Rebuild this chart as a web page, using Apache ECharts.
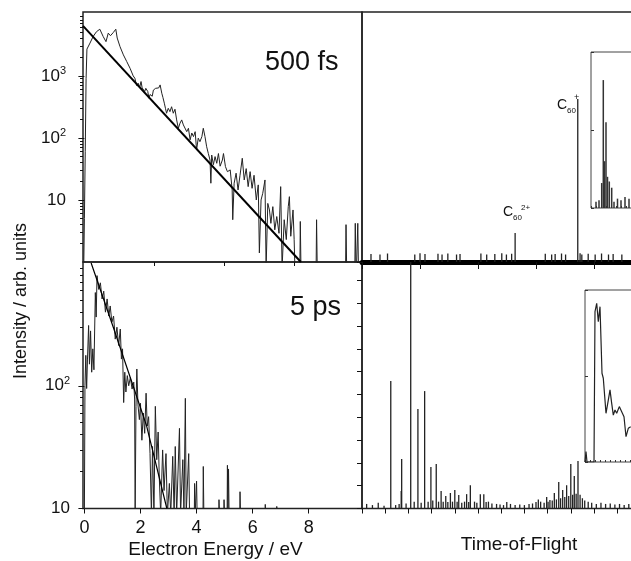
<!DOCTYPE html>
<html><head><meta charset="utf-8">
<script src="https://cdn.jsdelivr.net/npm/echarts@6/dist/echarts.min.js"></script>
<style>html,body{margin:0;padding:0;background:#fff}#c{width:631px;height:561px}</style>
</head><body><div id="c"></div>
<script>
// ---- data ----
// 500 fs photoelectron spectrum [energy eV, intensity]
const spec500 = [[-0.03,0.5],[0.0,5],[0.03,60],[0.06,900],[0.09,2700],[0.2,3380],[0.31,4300],[0.43,5150],[0.55,5650],[0.67,4300],[0.77,3560],[0.85,4880],[0.93,4440],[1.03,5000],[1.12,5650],[1.17,4070],[1.27,2960],[1.39,2180],[1.51,1700],[1.63,1320],[1.74,1000],[1.8,915],[1.86,700],[1.92,760],[1.97,650],[2.02,810],[2.06,640],[2.1,670],[2.15,560],[2.19,630],[2.26,560],[2.3,437],[2.34,500],[2.38,525],[2.42,470],[2.46,590],[2.5,560],[2.54,630],[2.58,600],[2.61,670],[2.65,640],[2.7,715],[2.76,525],[2.8,450],[2.85,363],[2.89,300],[2.93,250],[2.99,300],[3.05,265],[3.11,318],[3.17,250],[3.23,290],[3.29,195],[3.35,143],[3.41,173],[3.47,195],[3.53,162],[3.59,173],[3.65,126],[3.71,143],[3.77,93],[3.83,120],[3.89,105],[3.95,126],[4.0,64],[4.06,99],[4.12,87],[4.19,105],[4.24,143],[4.3,105],[4.36,72],[4.42,56],[4.48,44],[4.51,18.6],[4.54,53],[4.6,37],[4.66,50],[4.72,39],[4.78,56],[4.84,35],[4.92,44],[4.96,56],[5.03,34.5],[5.1,28.6],[5.2,30.5],[5.27,14.5],[5.29,4.8],[5.34,18.6],[5.41,27],[5.48,14.5],[5.55,25],[5.63,47],[5.7,21],[5.77,32],[5.84,16.4],[5.91,28.6],[5.98,15.4],[6.05,25],[6.13,10],[6.2,17.5],[6.24,1.4],[6.3,10],[6.36,12.8],[6.44,21],[6.48,0.8],[6.54,8.8],[6.6,6.9],[6.65,4.2],[6.72,7.8],[6.79,3.3],[6.86,5.4],[6.94,2.9],[7.0,16.4],[7.05,0.8],[7.125,4.8],[7.2,2.3],[7.27,7.8],[7.31,11.3],[7.36,2.6],[7.44,6.9],[7.48,2.3],[7.52,0.5],[7.68,0.5],[7.7,4.5],[7.73,0.5],[8.26,0.5],[8.28,4.8],[8.31,0.5],[9.31,0.5],[9.33,4.0],[9.36,0.5],[9.64,0.5],[9.66,4.2],[9.69,0.5],[9.73,0.5],[9.75,4.2],[9.78,0.5]];
const fit500 = [[-0.05,6400],[7.72,1]];
// 5 ps photoelectron spectrum
const spec5ps = [[0.0,9],[0.02,100],[0.05,177],[0.08,95],[0.11,165],[0.15,310],[0.18,150],[0.22,280],[0.26,129],[0.3,200],[0.34,135],[0.39,575],[0.42,363],[0.45,790],[0.51,610],[0.57,690],[0.63,510],[0.69,590],[0.75,398],[0.81,510],[0.87,370],[0.92,447],[0.98,330],[1.04,370],[1.1,240],[1.16,300],[1.22,213],[1.28,290],[1.32,165],[1.36,200],[1.4,73],[1.44,129],[1.48,89],[1.53,121],[1.58,100],[1.64,117],[1.7,94],[1.76,107],[1.79,78],[1.81,9],[1.84,68],[1.87,137],[1.91,70],[1.96,53],[2.0,72],[2.05,36],[2.1,60],[2.15,41],[2.2,87],[2.24,47],[2.29,56],[2.34,28],[2.39,9],[2.43,32],[2.48,9],[2.53,68],[2.58,25],[2.63,42],[2.67,18],[2.72,9],[2.79,30],[2.84,14],[2.91,28],[2.96,9],[3.03,16],[3.08,9],[3.15,26.6],[3.2,9],[3.24,32],[3.29,9],[3.39,45],[3.43,9],[3.51,25],[3.55,9],[3.6,79],[3.63,9],[3.72,28],[3.75,9],[3.92,9],[3.93,16],[3.95,9],[3.99,9],[4.0,16.7],[4.02,9],[4.23,9],[4.24,22],[4.26,9],[4.79,9],[4.8,11.8],[4.82,9],[4.97,9],[4.98,11.8],[5.0,9],[5.09,9],[5.1,22.5],[5.12,9],[5.13,9],[5.14,21],[5.16,9],[5.54,9],[5.55,13.7],[5.57,9],[6.44,9],[6.45,10.8],[6.47,9],[6.85,9],[6.86,10.4],[6.88,9]];
const fit5ps = [[0.24,1000],[1.03,300],[2.22,47],[2.94,10]];
// time-of-flight, 500 fs [tof, height]
const tofTop = [[0.155,3.2],[0.31,3.0],[0.44,3.4],[0.91,3.0],[1.0,3.5],[1.086,3.2],[1.31,3.3],[1.38,3.0],[1.48,3.4],[1.63,3.0],[1.69,3.2],[2.05,3.4],[2.15,3.0],[2.29,3.2],[2.41,3.5],[2.49,3.0],[2.58,3.3],[2.64,11.6],[3.16,3.3],[3.27,3.0],[3.33,3.2],[3.44,3.4],[3.51,3.0],[3.72,65.2],[3.76,3.5],[3.79,3.0],[3.9,3.3],[4.02,3.0],[4.13,3.4],[4.25,3.0],[4.33,3.2],[4.48,3.0]];
const tofTopInset = [[1.0,0.04],[1.6,0.05],[2.14,0.16],[2.46,0.82],[2.7,0.3],[3.0,0.55],[3.3,0.2],[3.66,0.17],[4.14,0.13],[4.6,0.04],[5.3,0.06],[6.0,0.05],[6.8,0.07],[7.6,0.06]];
// time-of-flight, 5 ps
const tofBottom = [[0.2,0.2],[0.45,0.15],[0.7,0.25],[0.95,0.12],[1.24,5.59],[1.45,0.15],[1.6,0.2],[1.69,0.77],[1.71,2.17],[1.9,0.22],[2.1,12],[2.25,0.3],[2.41,4.36],[2.55,0.25],[2.7,5.15],[2.85,0.3],[2.97,1.82],[3.05,0.35],[3.2,1.95],[3.3,0.3],[3.41,0.77],[3.5,0.3],[3.61,0.55],[3.7,0.28],[3.81,0.68],[3.9,0.3],[4.0,0.81],[4.1,0.3],[4.17,0.59],[4.3,0.25],[4.42,0.3],[4.51,0.63],[4.6,0.28],[4.67,1.02],[4.85,0.3],[4.95,0.25],[5.1,0.63],[5.25,0.63],[5.35,0.28],[5.45,0.3],[5.6,0.22],[5.8,0.2],[5.95,0.18],[6.1,0.15],[6.24,0.28],[6.4,0.2],[6.6,0.15],[6.8,0.18],[7.0,0.15],[7.2,0.2],[7.35,0.22],[7.5,0.28],[7.6,0.4],[7.7,0.3],[7.85,0.25],[7.96,0.5],[8.02,0.3],[8.1,0.37],[8.2,0.35],[8.29,0.68],[8.38,0.4],[8.48,1.16],[8.56,0.45],[8.65,0.81],[8.74,0.5],[8.82,1.02],[8.91,0.55],[9.0,1.95],[9.08,0.6],[9.15,1.42],[9.23,0.65],[9.31,2.08],[9.4,0.6],[9.5,0.45],[9.6,0.35],[9.75,0.3],[9.9,0.25],[10.1,0.2],[10.3,0.25],[10.5,0.2],[10.7,0.22],[10.9,0.18],[11.1,0.2],[11.3,0.15],[11.5,0.2],[11.7,0.18],[11.9,0.2],[12.1,0.15],[12.3,0.2]];
const tofBottomInset = [[0,0],[0.2,0.06],[0.4,0],[1.8,0],[2.0,0.874],[2.34,0.923],[2.66,0.816],[3.0,0.903],[3.4,0.516],[3.66,0.487],[4.2,0.283],[4.66,0.36],[5.0,0.419],[5.34,0.341],[5.66,0.273],[6.0,0.302],[6.34,0.283],[6.86,0.322],[7.34,0.292],[7.8,0.263],[8.2,0.147],[8.66,0.196],[9.14,0.205]];
// tick values
const energyTicks = [0,2,4,6,8];
const topEnergyTicks = [2.5,5,7.5];
const topLogLabels = [10,100,1000];
const bottomLogLabels = [10,100];
const topLogMinor = [2,3,4,5,6,7,8,9,20,30,40,50,60,70,80,90,200,300,400,500,600,700,800,900,2000,3000,4000,5000,6000,7000,8000,9000];
const bottomLogMinor = [20,30,40,50,60,70,80,90,200,300,400,500,600,700,800,900];

// ---- chart ----
const FONT = '"Liberation Sans", Arial, Helvetica, sans-serif';
const INK = '#111';
const chart = echarts.init(document.getElementById('c'), null, {renderer:'canvas'});
const rich = {
  a:{fontSize:17, fontFamily:FONT, color:INK, lineHeight:20},
  s:{fontSize:11, fontFamily:FONT, color:INK, lineHeight:12, verticalAlign:'top'}
};
function logLabel(v){
  if (Math.abs(v-10) < 1e-6) return '{a|10}';
  return '{a|10}{s|' + Math.round(Math.log10(v)) + '}';
}
const box = {show:true, borderColor:'#222', borderWidth:1.5, backgroundColor:'transparent', outerBoundsMode:'none', containLabel:false};
const noLine = {show:false};
function tick(vals, len, inside){ return {show:true, customValues:vals, length:len, inside:!!inside, lineStyle:{color:INK,width:1}}; }

chart.setOption({
  animation:false,
  backgroundColor:'#fff',
  grid:[
    Object.assign({left:83, top:12, width:279, height:250}, box),
    Object.assign({left:83, top:262, width:279, height:246.5}, box),
    Object.assign({left:362, top:12, width:300, height:250}, box),
    Object.assign({left:362, top:262, width:300, height:246.5}, box),
    Object.assign({left:591, top:52, width:120, height:156}, box, {borderWidth:1, borderColor:'#444'}),
    Object.assign({left:585, top:290, width:120, height:172}, box, {borderWidth:1, borderColor:'#444'})
  ],
  xAxis:[
    {gridIndex:0, type:'value', min:-0.05, max:9.9, axisLine:noLine, splitLine:noLine, axisLabel:{show:false}, axisTick:tick(topEnergyTicks,4)},
    {gridIndex:1, type:'value', min:-0.05, max:9.9, axisLine:noLine, splitLine:noLine,
      axisLabel:{show:true, customValues:energyTicks, margin:11, fontSize:18, fontFamily:FONT, color:INK}, axisTick:tick(energyTicks,5)},
    {gridIndex:2, type:'value', min:0, max:300/58, interval:1, axisLine:{show:true, lineStyle:{color:'#000', width:5}}, splitLine:noLine, axisLabel:{show:false}, axisTick:{show:true, length:7, lineStyle:{color:INK}}},
    {gridIndex:3, type:'value', min:0, max:300/23.2, interval:1, axisLine:noLine, splitLine:noLine, axisLabel:{show:false}, axisTick:{show:true, length:5, lineStyle:{color:INK}}},
    {gridIndex:4, type:'value', min:0, max:24, interval:1, axisLine:noLine, splitLine:noLine, axisLabel:{show:false}, axisTick:{show:true, inside:true, length:2, lineStyle:{color:'#333'}}},
    {gridIndex:5, type:'value', min:0, max:24, interval:1, axisLine:noLine, splitLine:noLine, axisLabel:{show:false}, axisTick:{show:true, inside:true, length:2, lineStyle:{color:'#333'}}}
  ],
  yAxis:[
    {gridIndex:0, type:'log', min:1, max:10700, axisLine:noLine, splitLine:noLine, minorSplitLine:noLine,
      axisLabel:{show:true, customValues:topLogLabels, margin:17, formatter:logLabel, rich:rich}, axisTick:tick(topLogLabels,6)},
    {gridIndex:1, type:'log', min:10, max:1020, axisLine:noLine, splitLine:noLine,
      axisLabel:{show:true, customValues:bottomLogLabels, margin:13, formatter:logLabel, rich:rich}, axisTick:tick(bottomLogLabels,6)},
    {gridIndex:2, type:'value', min:0, max:100, axisLine:noLine, splitLine:noLine, axisLabel:{show:false}, axisTick:{show:false}},
    {gridIndex:3, type:'value', min:0, max:246.5/22.8, interval:1, axisLine:noLine, splitLine:noLine, axisLabel:{show:false}, axisTick:{show:true, length:5, lineStyle:{color:INK}}},
    {gridIndex:4, type:'value', min:0, max:1, interval:0.5, axisLine:noLine, splitLine:noLine, axisLabel:{show:false}, axisTick:{show:true, inside:true, length:3, lineStyle:{color:'#333'}}},
    {gridIndex:5, type:'value', min:0, max:1, interval:0.5, axisLine:noLine, splitLine:noLine, axisLabel:{show:false}, axisTick:{show:true, inside:true, length:3, lineStyle:{color:'#333'}}},
    {gridIndex:0, type:'log', min:1, max:10700, position:'left', axisLine:noLine, splitLine:noLine, axisLabel:{show:false}, axisTick:tick(topLogMinor,3)},
    {gridIndex:1, type:'log', min:10, max:1020, position:'left', axisLine:noLine, splitLine:noLine, axisLabel:{show:false}, axisTick:tick(bottomLogMinor,3)}
  ],
  series:[
    {type:'line', xAxisIndex:0, yAxisIndex:0, data:spec500, symbol:'none', clip:true, lineStyle:{color:'#222', width:1}},
    {type:'line', xAxisIndex:0, yAxisIndex:0, data:fit500, symbol:'none', clip:true, lineStyle:{color:'#000', width:2}},
    {type:'line', xAxisIndex:1, yAxisIndex:1, data:spec5ps, symbol:'none', clip:true, lineStyle:{color:'#222', width:1}},
    {type:'line', xAxisIndex:1, yAxisIndex:1, data:fit5ps, symbol:'none', clip:true, lineStyle:{color:'#000', width:1.2}},
    {type:'bar', xAxisIndex:2, yAxisIndex:2, data:tofTop, barWidth:1.3, clip:true, itemStyle:{color:'#222'}},
    {type:'bar', xAxisIndex:4, yAxisIndex:4, data:tofTopInset, barWidth:1.5, clip:true, itemStyle:{color:'#333'}},
    {type:'bar', xAxisIndex:3, yAxisIndex:3, data:tofBottom, barWidth:1.3, clip:true, itemStyle:{color:'#222'}},
    {type:'line', xAxisIndex:5, yAxisIndex:5, data:tofBottomInset, symbol:'none', clip:true, lineStyle:{color:'#222', width:1.2}}
  ],
  graphic:[
    {type:'text', x:265, y:63, style:{text:'500 fs', fontSize:27, fontFamily:FONT, fill:INK, verticalAlign:'middle', textVerticalAlign:'middle'}},
    {type:'text', x:290, y:308, style:{text:'5 ps', fontSize:27, fontFamily:FONT, fill:INK, verticalAlign:'middle', textVerticalAlign:'middle'}},
    {type:'text', x:215.5, y:550, style:{text:'Electron Energy / eV', fontSize:19, fontFamily:FONT, fill:INK, align:'center', textAlign:'center', verticalAlign:'middle', textVerticalAlign:'middle'}},
    {type:'text', x:519, y:545, style:{text:'Time-of-Flight', fontSize:19, fontFamily:FONT, fill:INK, align:'center', textAlign:'center', verticalAlign:'middle', textVerticalAlign:'middle'}},
    {type:'text', x:21, y:301, rotation:Math.PI/2, style:{text:'Intensity / arb. units', fontSize:18, fontFamily:FONT, fill:INK, align:'center', textAlign:'center', verticalAlign:'middle', textVerticalAlign:'middle'}},
    {type:'text', x:557, y:105, style:{text:'C', fontSize:14, fontFamily:FONT, fill:INK, verticalAlign:'middle', textVerticalAlign:'middle'}},
    {type:'text', x:567, y:111, style:{text:'60', fontSize:8, fontFamily:FONT, fill:INK, verticalAlign:'middle', textVerticalAlign:'middle'}},
    {type:'text', x:574, y:98, style:{text:'+', fontSize:9, fontFamily:FONT, fill:INK, verticalAlign:'middle', textVerticalAlign:'middle'}},
    {type:'text', x:503, y:212, style:{text:'C', fontSize:14, fontFamily:FONT, fill:INK, verticalAlign:'middle', textVerticalAlign:'middle'}},
    {type:'text', x:513, y:218, style:{text:'60', fontSize:8, fontFamily:FONT, fill:INK, verticalAlign:'middle', textVerticalAlign:'middle'}},
    {type:'text', x:521, y:208, style:{text:'2+', fontSize:8, fontFamily:FONT, fill:INK, verticalAlign:'middle', textVerticalAlign:'middle'}}
  ]
});
</script></body></html>
